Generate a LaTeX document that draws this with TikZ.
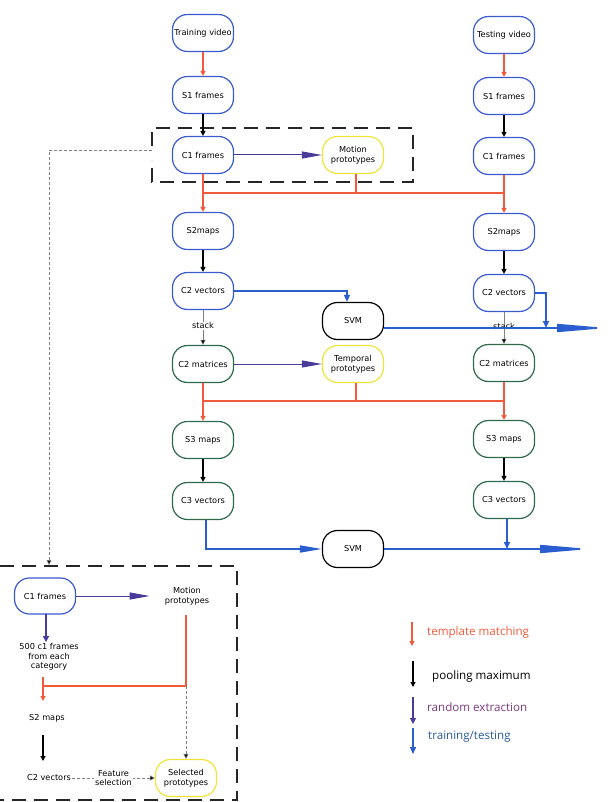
\documentclass[tikz,border=0pt]{standalone}
\usepackage{fontspec}
\setmainfont{DejaVu Sans}
\newfontfamily\legfont{Open Sans}
\usetikzlibrary{arrows.meta,calc}
\definecolor{boxblue}{HTML}{3A5BD0}
\definecolor{boxgreen}{HTML}{2F6A4F}
\definecolor{boxyellow}{HTML}{F2E33A}
\definecolor{redc}{HTML}{F05A3A}
\definecolor{purp}{HTML}{4A3A9A}
\definecolor{bluec}{HTML}{2A5ED0}
\definecolor{legpurp}{HTML}{7A3A7A}
\definecolor{legblue}{HTML}{2A5A9A}
\tikzset{
  bx/.style={draw, rounded corners=15pt, minimum width=61pt, minimum height=37pt, line width=1.2pt,
    font=\fontsize{8.2}{9.7}\selectfont, align=center, inner sep=1pt, fill=white},
  bb/.style={bx, draw=boxblue},
  bg/.style={bx, draw=boxgreen},
  byl/.style={bx, draw=boxyellow},
  bk/.style={bx, draw=black},
  txt/.style={font=\fontsize{8.2}{9.7}\selectfont, align=center, inner sep=1pt},
  redarr/.style={draw=redc, line width=1.4pt, -{Triangle[length=5pt,width=5pt]}},
  redln/.style={draw=redc, line width=1.4pt},
  blkarr/.style={draw=black, line width=1.8pt, -{Triangle[length=5pt,width=5pt]}},
  purarr/.style={draw=purp, line width=1pt, -{Triangle[length=20pt,width=7pt]}},
  purarrs/.style={draw=purp, line width=1.2pt, -{Triangle[length=6pt,width=6pt]}},
  bluarr/.style={draw=bluec, line width=1.6pt, -{Triangle[length=7pt,width=6pt]}},
  blubig/.style={draw=bluec, line width=1.6pt, -{Triangle[length=50pt,width=8pt]}},
  blumid/.style={draw=bluec, line width=1.6pt, -{Triangle[length=22pt,width=7pt]}},
  stackarr/.style={draw=gray, line width=0.5pt, -{Triangle[length=5pt,width=5pt,fill=black]}},
  dotarr/.style={draw=gray, line width=0.6pt, densely dashed, -{Triangle[length=5pt,width=5pt,fill=black]}},
  dashbox/.style={draw=black!85, line width=1.3pt, dash pattern=on 14pt off 8pt},
  legtxt/.style={font=\legfont\fontsize{11.6}{13}\selectfont, anchor=west, inner sep=0pt},
}
\begin{document}
\begin{tikzpicture}[x=1pt,y=-1pt]
\useasboundingbox (0,0) rectangle (607,802);

% dashed boxes
\draw[dashbox] (152,146) -- (152,128) -- (413,128) -- (413,182) -- (152,182) -- (152,160);
\draw[dashbox] (0,566) -- (237,566) -- (237,800) -- (0,800);

% left column
\node[bb] (tv) at (203,33) {Training video};
\node[bb] (s1l) at (203,95) {S1 frames};
\node[bb] (c1l) at (203,155) {C1 frames};
\node[byl] (mp) at (353,155) {Motion\\prototypes};
\node[bb] (s2l) at (203,231) {S2maps};
\node[bb] (c2l) at (203,291) {C2 vectors};
\node[bk] (svm1) at (353,321) {SVM};
\node[bg] (cml) at (203,364) {C2 matrices};
\node[byl] (tp) at (353,364) {Temporal\\prototypes};
\node[bg] (s3l) at (203,440) {S3 maps};
\node[bg] (c3l) at (203,501) {C3 vectors};
\node[bk] (svm2) at (353,549) {SVM};

% right column
\node[bb] (tev) at (504,35) {Testing video};
\node[bb] (s1r) at (504,96) {S1 frames};
\node[bb] (c1r) at (504,156) {C1 frames};
\node[bb] (s2r) at (504,232) {S2maps};
\node[bb] (c2r) at (504,293) {C2 vectors};
\node[bg] (cmr) at (504,363) {C2 matrices};
\node[bg] (s3r) at (504,439) {S3 maps};
\node[bg] (c3r) at (504,500) {C3 vectors};

% top arrows
\draw[redarr] (tv) -- (s1l);
\draw[redarr] (tev) -- (s1r);
\draw[blkarr] (s1l) -- (c1l);
\draw[blkarr] (s1r) -- (c1r);
\draw[purarr] (c1l) -- (mp);

% red bus 1
\coordinate (b1l) at (203,193);
\coordinate (b1r) at (504,193);
\draw[redln] (b1l) -- (b1r);
\draw[redln] (c1l.south) -- (b1l);
\draw[redln] ([xshift=3pt]mp.south) -- ([xshift=3pt]mp.south |- b1l);
\draw[redarr] (b1l) -- (s2l);
\draw[redln] (c1r.south) -- (b1r);
\draw[redarr] (b1r) -- (s2r);

\draw[blkarr] (s2l) -- (c2l);
\draw[blkarr] (s2r) -- (c2r);

% stack
\draw[stackarr] (c2l) -- node[txt, fill=white, pos=0.45] {stack} (cml);
\draw[stackarr] (c2r) -- node[txt, pos=0.45] {stack} (cmr);

% blue training/testing
\coordinate (svmk) at (347,291);
\draw[bluarr] (c2l.east) -- (svmk) -- (svm1.north -| svmk);
\coordinate (o1) at (607,328);
\draw[blubig] ([yshift=-7pt]svm1.east) -- (o1);
\coordinate (k2) at (546,293);
\draw[bluarr] (c2r.east) -- (k2) -- (546,328);

\draw[purarr] (cml) -- (tp);

% red bus 2
\coordinate (b2l) at (203,401);
\coordinate (b2r) at (504,401);
\draw[redln] (b2l) -- (b2r);
\draw[redln] (cml.south) -- (b2l);
\draw[redln] ([xshift=3pt]tp.south) -- ([xshift=3pt]tp.south |- b2l);
\draw[redarr] (b2l) -- (s3l);
\draw[redln] (cmr.south) -- (b2r);
\draw[redarr] (b2r) -- (s3r);

\draw[blkarr] (s3l) -- (c3l);
\draw[blkarr] (s3r) -- (c3r);

% bottom blue
\coordinate (k3) at (206,549);
\draw[blumid] ([xshift=3pt]c3l.south) -- (k3) -- (svm2.west);
\coordinate (o2) at (590,549);
\draw[blubig] (svm2.east) -- (o2);
\draw[bluarr] ([xshift=3pt]c3r.south) -- ([xshift=3pt]c3r.south |- o2);

% dotted link to detail box
\coordinate (d1) at (152,150);
\coordinate (d2) at (49,150);
\coordinate (d3) at (49,565);
\draw[dotarr] (d1) -- (d2) -- (d3);

% detail box
\node[bb, minimum height=36pt] (c1b) at (45,596) {C1 frames};
\node[txt] (mpb) at (187,596) {Motion\\prototypes};
\node[txt] (f500) at (49,657) {500 c1 frames\\from each\\category};
\node[txt] (s2b) at (47,718) {S2 maps};
\node[txt] (c2b) at (49,778) {C2 vectors};
\node[byl] (sel) at (186,778) {Selected\\prototypes};

\draw[purarr] (c1b) -- ([xshift=-14pt]mpb.west);
\draw[purarrs] (46,614) -- (f500.north -| 46,0);
\coordinate (jr) at (186,686);
\coordinate (jl) at (43,686);
\draw[redln] (186,615) -- (jr) -- (jl);
\draw[redarr] (43,677) -- (43,701);
\draw[dotarr] (jr) -- (sel.north);
\draw[blkarr] (43,735) -- (43,761);
\draw[dotarr] (c2b.east) -- node[txt, fill=white] {Feature\\selection} (sel.west);

% legend
\draw[redarr, line width=1.1pt] (412,622) -- (412,646);
\node[legtxt, text=redc] (l1) at (427,632) {template matching};
\draw[blkarr, line width=1.4pt] (413,661) -- (413,687);
\node[legtxt, text=black] (l2) at (432,676) {pooling maximum};
\draw[purarrs, line width=1.1pt] (413,697) -- (413,724);
\node[legtxt, text=legpurp] (l3) at (427,707) {random extraction};
\draw[bluarr, line width=1.4pt] (413,728) -- (413,754);
\node[legtxt, text=legblue] (l4) at (428,737) {training/testing};
\end{tikzpicture}
\end{document}
